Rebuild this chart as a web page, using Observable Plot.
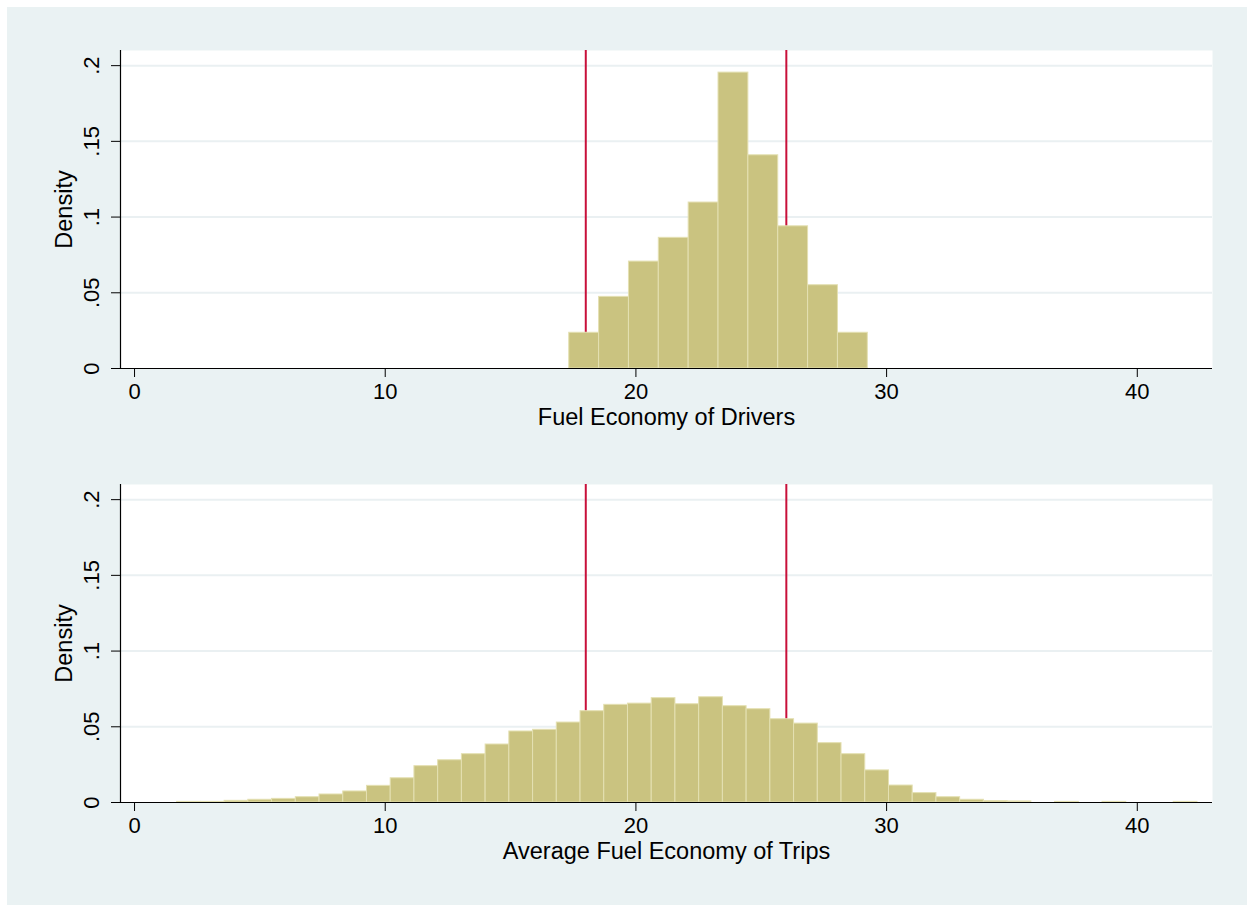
<!DOCTYPE html>
<html>
<head>
<meta charset="utf-8">
<script src="https://cdn.jsdelivr.net/npm/d3@7"></script>
<script src="https://cdn.jsdelivr.net/npm/@observablehq/plot@0.6"></script>
<style>
  html, body { margin: 0; padding: 0; background: #ffffff; }
  #page { position: relative; width: 1253px; height: 912px; overflow: hidden; }
  #bg { position: absolute; left: 7px; top: 7px; width: 1240px; height: 898px; background: #EAF2F3; }
  .panel { position: absolute; left: 0; }
</style>
</head>
<body>
<div id="page">
  <div id="bg"></div>
  <div id="top" class="panel" style="top:0px"></div>
  <div id="bottom" class="panel" style="top:440px"></div>
</div>
<script>
// ---- data ----
const xTicks = [0, 10, 20, 30, 40];
const yTicks = [0, 0.05, 0.1, 0.15, 0.2];
const yTickLabels = ["0", ".05", ".1", ".15", ".2"];
const refLines = [18, 26];
const yTitle = "Density";
const panelTitles = ["Fuel Economy of Drivers", "Average Fuel Economy of Trips"];

const driverBinStart = 17.34;
const driverBinWidth = 1.191;
const driverDensity = [0.0236, 0.0473, 0.0706, 0.0863, 0.1096, 0.1954, 0.1408, 0.0939, 0.055, 0.0236];

const tripBinStart = 1.70;
const tripBinWidth = 0.9465;
const tripDensity = [
  0.0004, 0.0004, 0.0011, 0.0018, 0.0024, 0.0035, 0.0053, 0.0073, 0.011, 0.016,
  0.024, 0.0279, 0.0319, 0.0383, 0.0469, 0.048, 0.0528, 0.0603, 0.0645, 0.0653,
  0.0689, 0.0649, 0.0695, 0.0636, 0.0616, 0.055, 0.0521, 0.0392, 0.0319, 0.0212,
  0.0112, 0.0062, 0.0035, 0.0018, 0.0009, 0.0007, 0, 0.0004, 0, 0.0004,
  0, 0, 0.0004
];

// ---- styling ----
const FONT = "'Liberation Sans', Arial, Helvetica, sans-serif";
const FS = 22;
const TFS = 23.5;
const BAR_FILL = "#CAC380";
const BAR_STROKE = "#E4E0B2";
const RED = "#C8103A";
const GRID = "#EAF0F2";

function bins(start, width, dens) {
  return dens.map((d, i) => ({x1: start + i * width, x2: start + (i + 1) * width, y: d}))
             .filter(b => b.y > 0);
}

function panel(data, title, height, mt, mb) {
  return Plot.plot({
    width: 1253,
    height,
    marginLeft: 120,
    marginRight: 41,
    marginTop: mt,
    marginBottom: mb,
    style: {background: "transparent", fontFamily: FONT, fontSize: FS + "px", color: "#000", overflow: "visible"},
    x: {domain: [-0.56, 43.0], ticks: xTicks, tickSize: 9, tickPadding: 6, tickFormat: d => String(d), label: null},
    y: {domain: [0, 0.21], ticks: yTicks, tickSize: 9, tickFormat: () => "", label: null},
    marks: [
      Plot.frame({fill: "white", stroke: "none"}),
      Plot.ruleY(yTicks.slice(1), {stroke: GRID, strokeWidth: 2}),
      Plot.ruleX(refLines, {stroke: RED, strokeWidth: 2}),
      Plot.rectY(data, {x1: "x1", x2: "x2", y: "y", fill: BAR_FILL, stroke: BAR_STROKE, strokeWidth: 1}),
      Plot.ruleY([0], {stroke: "black", strokeWidth: 1.2}),
      Plot.ruleX([-0.56], {stroke: "black", strokeWidth: 1.2}),
      Plot.text(yTicks, {y: d => d, text: (d, i) => yTickLabels[i], frameAnchor: "left", rotate: -90,
        dx: -22, lineAnchor: "bottom", textAnchor: "middle", fontSize: FS, fill: "black"}),
      Plot.text([yTitle], {frameAnchor: "left", rotate: -90, dx: -49, lineAnchor: "bottom",
        textAnchor: "middle", fontSize: TFS, fill: "black"}),
      Plot.text([title], {frameAnchor: "bottom", dy: 56, lineAnchor: "bottom", textAnchor: "middle",
        fontSize: TFS, fill: "black"})
    ]
  });
}

document.getElementById("top").appendChild(
  panel(bins(driverBinStart, driverBinWidth, driverDensity), panelTitles[0], 440, 50, 72));
document.getElementById("bottom").appendChild(
  panel(bins(tripBinStart, tripBinWidth, tripDensity), panelTitles[1], 472, 44, 110));
</script>
</body>
</html>
